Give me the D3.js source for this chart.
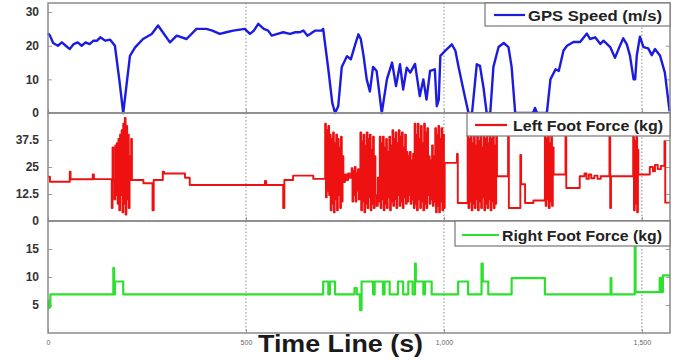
<!DOCTYPE html>
<html>
<head>
<meta charset="utf-8">
<script src="https://cdn.jsdelivr.net/npm/d3@7"></script>
<style>
  html, body { margin: 0; padding: 0; background: #fff; }
  svg { display: block; font-family: "Liberation Sans", Arial, sans-serif; }
</style>
</head>
<body>
<div id="chart"></div>
<script>
// time axis (s)
const xTicks = [0, 500, 1000, 1500];
const xTickLabels = ['0', '500', '1,000', '1,500'];

// GPS speed (m/s)
const gpsTime = [0,5,13,25,35,45,55,65,75,85,95,105,115,124,132,145,157,169,180,190,198,207,220,240,262,278,290,308,325,350,375,400,415,434,450,468,497,510,520,531,545,556,565,580,594,611,625,636,645,655,662,675,691,695,708,718,725,733,742,755,765,776,784,790,797,805,813,821,830,843,856,869,879,889,897,906,915,927,939,948,956,965,977,982,987,991,1003,1020,1029,1037,1050,1062,1071,1083,1091,1100,1108,1117,1125,1138,1151,1163,1171,1180,1225,1230,1235,1260,1269,1282,1290,1302,1311,1327,1344,1361,1369,1382,1395,1403,1420,1432,1441,1453,1462,1470,1479,1483,1487,1495,1504,1516,1525,1533,1546,1558,1570];
const gpsSpeed = [23.7,23,20.8,20,21,20,19,20.5,21,20,21,20.5,21.5,21.5,22.5,21.5,21.8,20,10,0,8,17,19.5,22,23.5,26,24,21,23,22,25,25,24.5,23.5,24,24.5,25,23.5,24.5,26.5,25,24.5,23,23.5,24,23.5,24,24,24.5,23,23.5,24.5,24.5,25,13,3,0,2,13.7,16.9,16,20.4,23.4,22,17,10,6.4,13.7,12.5,0,10,15,8,14.5,7,13.5,12,14.6,5,10,4,12.5,13,2,4,17,18.5,20.4,18.5,13.7,6.5,0,0,14.5,14,7.5,0,0,13.7,19.6,20.8,19.6,13.7,0,0,1.5,0,0,10,13,12.5,18.6,20,21.1,21.1,23.6,22,22.5,20.5,21.5,19.6,16.4,19,22.2,20.4,17,10,10,17,22.7,19.6,19.2,17.2,19,17,12,0.5];

// left foot force (kg), held until the next sample
const leftTime = [0,5,55,57,113,116,
  161,163,165,168,170,172,174,176,178,180,182,184,186,188,190,192,194,196,198,200,202,204,206,208,210,212,
  241,264,267,290,293,346,358,548,551,594,597,619,670,
  700,702,704,706,708,710,712,714,716,718,720,722,724,726,728,730,732,734,736,738,740,742,744,746,
  750,754,758,762,767,769,771,773,775,777,779,781,783,785,787,
  789,791,793,795,797,799,801,803,805,807,809,811,813,815,817,819,821,823,825,827,830,833,836,
  838,840,842,844,846,848,850,852,854,856,858,860,862,864,866,
  868,870,872,874,876,878,880,882,884,886,888,890,892,894,896,898,900,902,904,
  906,908,910,912,914,916,918,920,922,
  924,926,928,930,932,934,936,938,940,942,944,946,948,950,952,954,956,958,960,
  962,964,966,968,970,972,974,976,
  978,980,982,984,986,988,990,992,994,996,998,1000,
  1002,1033,1035,
  1060,1062,1064,1066,1068,1070,1072,1074,1076,1078,1080,1082,1084,1086,1088,1090,1092,1094,1096,1098,1100,1102,1104,1106,1108,1110,1112,1114,1116,1118,1120,1122,1124,1126,1128,1130,1132,
  1134,1162,1164,1193,1195,1205,1226,
  1255,1257,1259,1261,1263,1265,1267,1269,1271,1273,1275,
  1277,1307,1309,1343,1355,1360,1366,1372,1380,1388,1396,1418,1420,1422,
  1478,1480,1482,1484,1486,1488,1490,
  1491,1520,1528,1533,1540,1548,1557,1559,1571];
const leftForce = [20.5,18.2,22.8,19.3,21.5,19.4,
  6,34,19,10,35,12,36,8,38,5,40,12,42,4,45,8,47.7,3,44,10,40,6,30,19,38,19,
  17.5,5,19,22.8,22,20,16.7,18.5,16.7,6,19,21,19.5,
  45,11,42,14,44,12,40,5,38,8,41,4,36,10,40,5,38,12,34,6,39,9,30,18,
  21.5,19,22,20,24.5,9,23,12,25,9,22,14,24,10,20,
  41,5,37,9,40,4,35,8,41,6,38,11,40,5,33,8,39,6,30,12,7,20,9,
  39,6,36,10,39,5,34,8,38,6,32,11,39,5,35,
  9,42,7,38,10,41,6,36,12,42,7,39,9,41,6,34,11,40,8,
  32,9,30,12,32,8,28,10,31,
  6,45,8,40,5,45,10,38,6,44,9,36,5,45,8,41,6,43,12,
  30,8,28,10,35,7,30,9,
  43,4,40,7,44,4,38,9,43,5,40,6,
  26.9,31,8.3,
  40,6,38,9,40,5,36,8,41,6,35,10,40,5,37,9,41,6,34,11,40,5,38,8,41,6,36,10,40,5,38,9,41,6,35,8,39,
  20.7,39,6,30.6,17,8.3,9.5,
  40,7,38,10,40,6,36,9,40,7,34,
  21.5,39,15.3,20.7,22,19.5,21.5,19.8,21,19.5,20.7,39,6,20.7,
  39,5,37,8,39,4,33,
  21.5,25,23,26,24,25.5,37,8.5,8.5];

// right foot force (kg), held until the next sample
const rightTime = [0,2,4,6,165,167,169,190,695,708,712,725,774,780,788,792,821,825,846,850,863,884,897,910,921,927,929,948,952,969,977,1036,1061,1095,1098,1112,1171,1255,1421,1423,1482,1484,1545,1549,1553,1571];
const rightForce = [4.4,5.8,4.6,6.9,11.6,6.9,9.2,6.9,9.2,6.9,9.2,6.9,8,6.9,4.1,9.2,6.9,9.2,6.9,9.2,6.9,9.2,6.9,9.2,6.9,12.4,9.2,6.9,9.2,6.9,6.9,9.2,6.9,12.4,9.2,6.9,9.8,6.9,9.8,6.9,15.4,7.3,9.8,7.3,10.3,10.3];

const gpsTicks = [0, 10, 20, 30];
const leftTicks = [0, 12.5, 25, 37.5];
const rightTicks = [5, 10, 15];

const W = 677, H = 360;
const left = 48, right = 670;

const svg = d3.select('#chart').append('svg').attr('width', W).attr('height', H);

const x = d3.scaleLinear().domain([0, 1571]).range([left, right]);

const panels = [
  { time: gpsTime, vals: gpsSpeed, ticks: gpsTicks, domain: [0, 32.7], top: 3, bottom: 113,
    color: '#1c1ce0', width: 2.4, curve: d3.curveLinear, fmt: d3.format('d'),
    name: 'GPS Speed (m/s)', box: [485, 3, 185, 23], line: [494, 525, 15], text: [528, 21, 134] },
  { time: leftTime, vals: leftForce, ticks: leftTicks, domain: [0, 50], top: 113, bottom: 221,
    color: '#ee1111', width: 1.9, curve: d3.curveStepAfter, fmt: d => d,
    name: 'Left Foot Force (kg)', box: [467, 113, 203, 23], line: [475, 507, 125], text: [513, 131, 150] },
  { time: rightTime, vals: rightForce, ticks: rightTicks, domain: [0, 20], top: 221, bottom: 333,
    color: '#2ee02e', width: 2.2, curve: d3.curveStepAfter, fmt: d3.format('d'),
    name: 'Right Foot Force (kg)', box: [455, 221, 215, 25], line: [462, 499, 235], text: [502, 241, 160] }
];

panels.forEach((p, i) => {
  const y = d3.scaleLinear().domain(p.domain).range([p.bottom, p.top]);
  const g = svg.append('g');

  // dotted vertical grid
  g.append('g').selectAll('line').data(xTicks.filter(d => d > 0)).join('line')
    .attr('x1', d => x(d)).attr('x2', d => x(d))
    .attr('y1', p.top).attr('y2', p.bottom)
    .attr('stroke', '#8c8c8c').attr('stroke-width', 1).attr('stroke-dasharray', '1.5,2');

  // y axis, ticks pointing inward
  const ya = g.append('g').attr('transform', `translate(${left},0)`)
    .call(d3.axisLeft(y).tickValues(p.ticks).tickFormat(p.fmt).tickSizeInner(-4).tickSizeOuter(0).tickPadding(9));
  ya.select('.domain').remove();
  ya.selectAll('line').attr('stroke', '#999');
  ya.selectAll('text').attr('font-size', 12).attr('font-weight', 'bold').attr('fill', '#333');

  const yr = g.append('g').attr('transform', `translate(${right},0)`)
    .call(d3.axisRight(y).tickValues(p.ticks).tickFormat('').tickSizeInner(-4).tickSizeOuter(0));
  yr.select('.domain').remove();
  yr.selectAll('line').attr('stroke', '#999');

  // x ticks on every panel, labels only on the last
  const xa = g.append('g').attr('transform', `translate(0,${p.bottom})`)
    .call(d3.axisBottom(x).tickValues(xTicks).tickFormat((d, k) => i === 2 ? xTickLabels[k] : '')
      .tickSizeInner(-4).tickSizeOuter(0).tickPadding(7));
  xa.select('.domain').remove();
  xa.selectAll('line').attr('stroke', '#999');
  xa.selectAll('text').attr('font-size', 7).attr('fill', '#666');

  // series
  const pts = p.time.map((t, k) => [t, p.vals[k]]);
  g.append('path').datum(pts)
    .attr('fill', 'none').attr('stroke', p.color).attr('stroke-width', p.width)
    .attr('stroke-linejoin', 'round')
    .attr('d', d3.line().curve(p.curve).x(d => x(d[0])).y(d => y(d[1])));

  // frame
  g.append('rect').attr('x', left).attr('y', p.top)
    .attr('width', right - left).attr('height', p.bottom - p.top)
    .attr('fill', 'none').attr('stroke', '#8a8a8a').attr('stroke-width', 1.5);

  // legend
  const lg = g.append('g');
  lg.append('rect').attr('x', p.box[0]).attr('y', p.box[1]).attr('width', p.box[2]).attr('height', p.box[3])
    .attr('fill', '#fff').attr('stroke', '#777').attr('stroke-width', 1.2);
  lg.append('line').attr('x1', p.line[0]).attr('x2', p.line[1]).attr('y1', p.line[2]).attr('y2', p.line[2])
    .attr('stroke', p.color).attr('stroke-width', 2.2);
  lg.append('text').attr('x', p.text[0]).attr('y', p.text[1])
    .attr('font-size', 14).attr('font-weight', 'bold').attr('fill', '#222')
    .attr('textLength', p.text[2]).attr('lengthAdjust', 'spacingAndGlyphs')
    .text(p.name);
});

svg.append('text').attr('x', 258).attr('y', 352)
  .attr('font-size', 24).attr('font-weight', 'bold').attr('fill', '#1a1a1a')
  .attr('textLength', 165).attr('lengthAdjust', 'spacingAndGlyphs')
  .text('Time Line (s)');
</script>
</body>
</html>
